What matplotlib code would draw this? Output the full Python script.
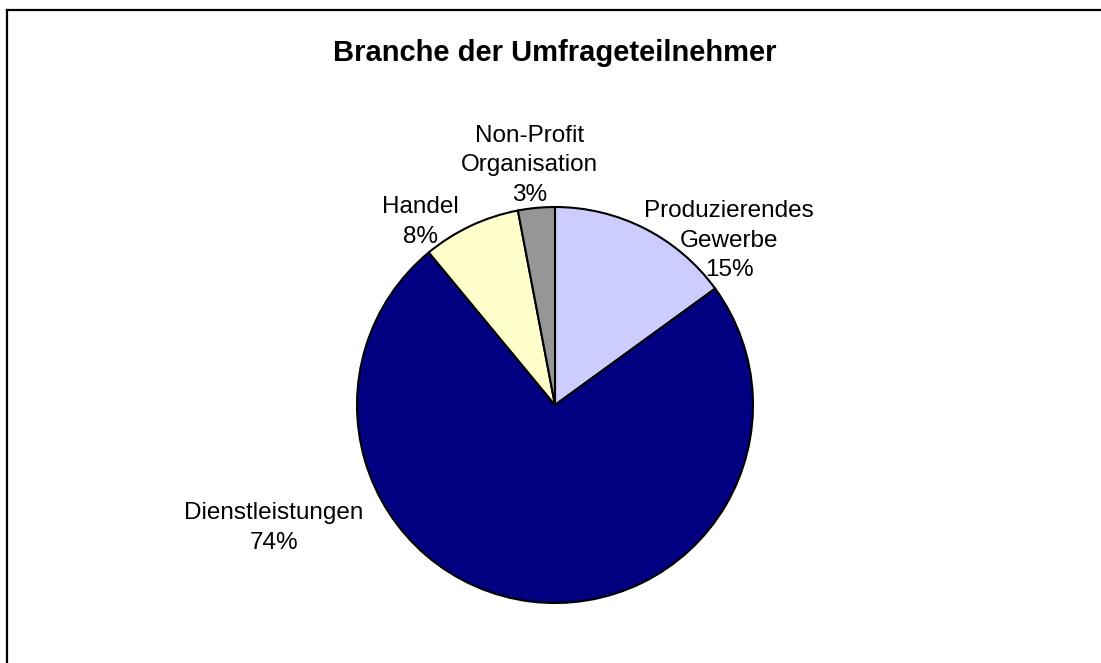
import matplotlib
matplotlib.use('Agg')
import matplotlib.pyplot as plt
from matplotlib.lines import Line2D

plt.rcParams['font.family'] = ['Liberation Sans', 'DejaVu Sans']

# data
labels = ['Produzierendes\nGewerbe', 'Dienstleistungen', 'Handel', 'Non-Profit\nOrganisation']
values = [15, 74, 8, 3]
colors = ['#CCCCFF', '#000080', '#FFFFCC', '#969696']
title = 'Branche der Umfrageteilnehmer'

# label placement (in pie radius units)
label_pos = [(0.88, 0.83), (-1.42, -0.62), (-0.68, 0.925), (-0.13, 1.21)]

W, H = 1101, 663
fig = plt.figure(figsize=(W / 100, H / 100), dpi=100)
fig.patch.set_facecolor('white')

cx, cy, r = 555, 405, 198
ax = fig.add_axes([(cx - r) / W, (H - cy - r) / H, 2 * r / W, 2 * r / H])
ax.pie(values, colors=colors, startangle=90, counterclock=False, radius=1,
       wedgeprops=dict(edgecolor='black', linewidth=1.5))
ax.set_xlim(-1, 1)
ax.set_ylim(-1, 1)
ax.set_aspect('equal')
ax.axis('off')

total = sum(values)
for lab, v, (x, y) in zip(labels, values, label_pos):
    ax.text(x, y, '%s\n%d%%' % (lab, round(v * 100 / total)), ha='center', va='center',
            fontsize=17.5, linespacing=1.45, clip_on=False)

fig.text(cx / W, 1 - 53 / H, title, ha='center', va='center', fontsize=21, fontweight='bold')

# frame (top and left edge only visible)
fig.add_artist(Line2D([7 / W, 1], [1 - 10 / H, 1 - 10 / H], color='black', lw=1.6,
                      transform=fig.transFigure))
fig.add_artist(Line2D([7 / W, 7 / W], [0, 1 - 10 / H], color='black', lw=1.6,
                      transform=fig.transFigure))

fig.savefig('out.png', dpi=100)
